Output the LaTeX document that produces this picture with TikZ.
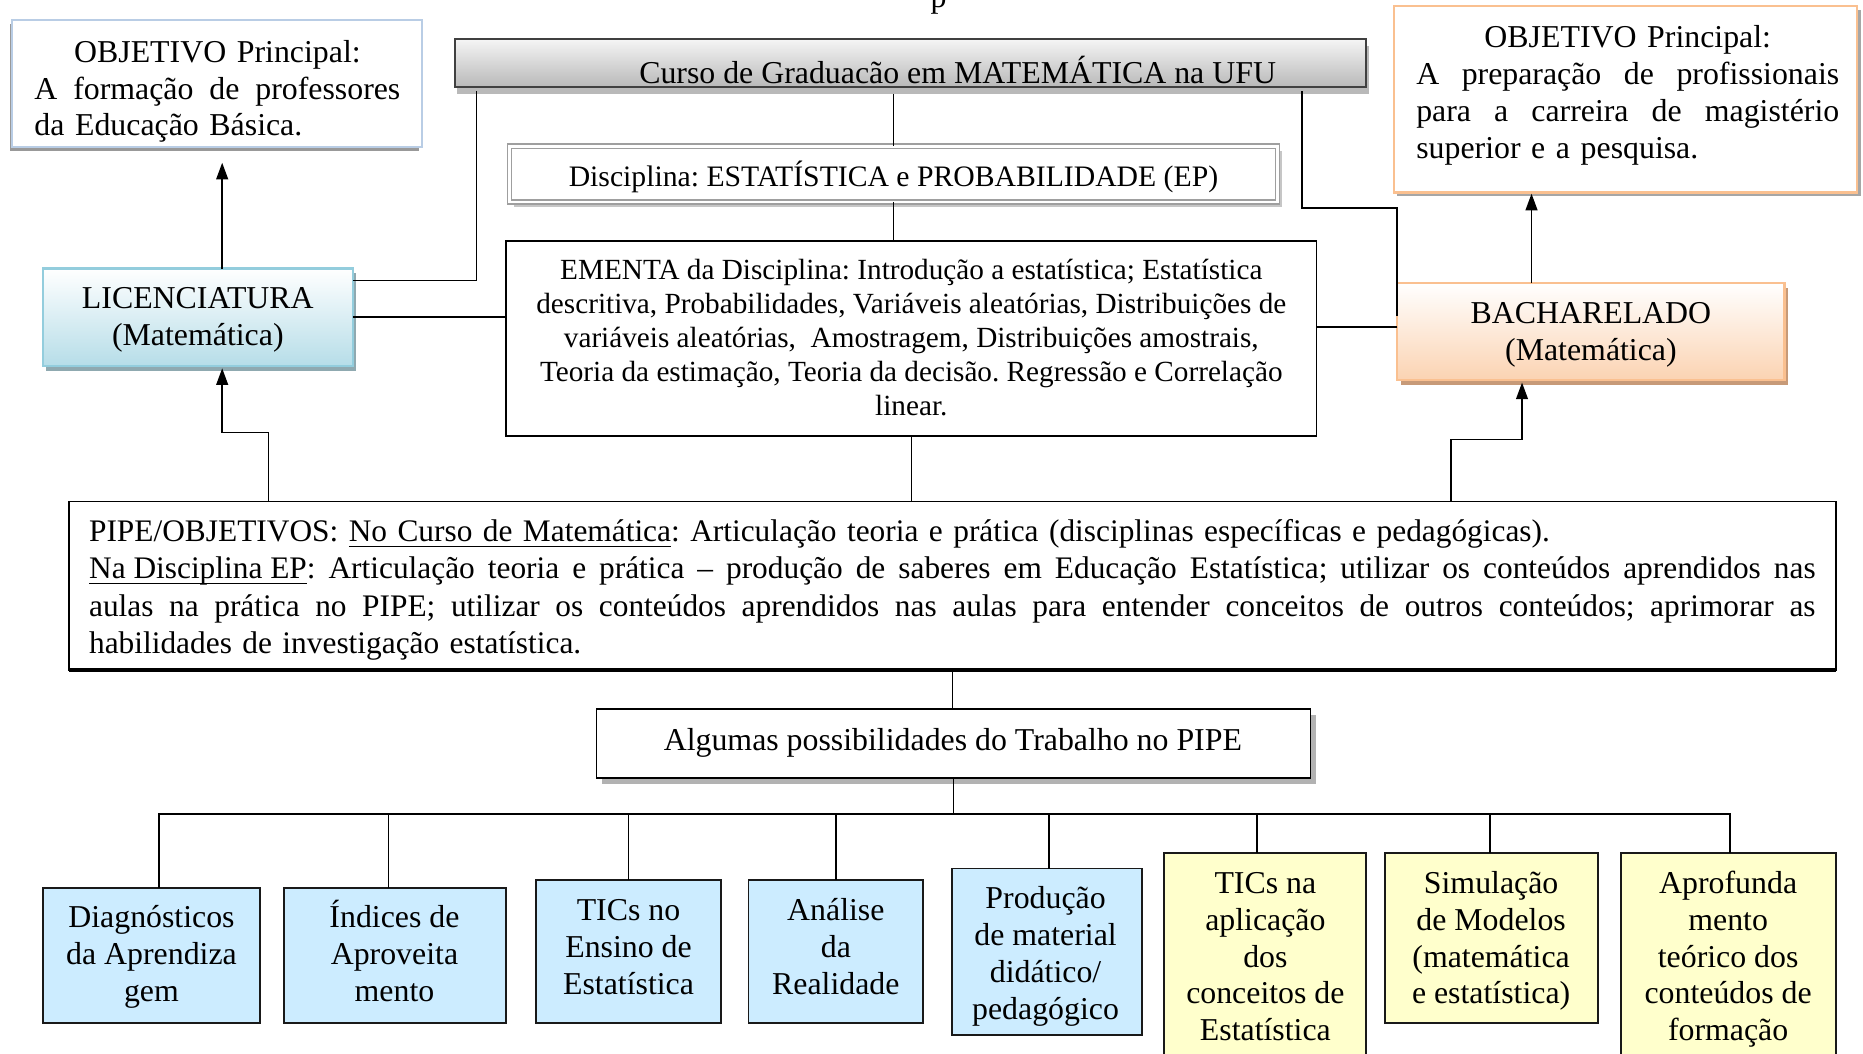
\documentclass[tikz,border=0pt]{standalone}
\usepackage{fontspec}
\setmainfont{Liberation Serif}
\usetikzlibrary{arrows.meta,calc,shadows}

\definecolor{bluefill}{HTML}{CCECFF}
\definecolor{yellowfill}{HTML}{FFFFCC}
\definecolor{licborder}{HTML}{93CDDD}
\definecolor{licbottom}{HTML}{B6DDE8}
\definecolor{licshadow}{HTML}{8FA9B0}
\definecolor{bachborder}{HTML}{FAC090}
\definecolor{bachbottom}{HTML}{FBD3B2}
\definecolor{bachshadow}{HTML}{C79A78}
\definecolor{objlborder}{HTML}{B9CDE5}
\definecolor{darkframe}{HTML}{404040}

% fonts: main size and the smaller size of the syllabus box
\newcommand\fmain{\fontsize{26.8}{31}\selectfont}
\newcommand\fsmall{\fontsize{24.6}{28.6}\selectfont}
% fixed-height strut so a text node's top lies 25pt above its first baseline
\newcommand\tp{\rule{0pt}{25pt}}
% underline at a fixed distance below the baseline
\newcommand\ulin[1]{\setbox0\hbox{#1}\rlap{\rule[-4.5pt]{\wd0}{1.2pt}}\box0}
% fully justified single line of a given width
\newcommand\jline[2]{\leavevmode\hbox to #1{\spaceskip=0.25em plus 1fil\relax #2}}
% box node from its corners (x1,y1) and (x2,y2)
\newcommand\mkbox[6]{\node[frame,#6,minimum width={(#4)-(#2)},minimum height={(#5)-(#3)}] (#1) at (#2,#3) {};}

\AtBeginDocument{\frenchspacing}

\tikzset{
  line/.style={draw=black, line width=1.3pt},
  arr/.style={line, -{Triangle[length=14pt,width=10pt]}},
  frame/.style={anchor=north west, inner sep=0pt, outer sep=0pt, rectangle},
  txt/.style={inner sep=0pt, outer sep=0pt, font=\fmain},
  plainbox/.style={draw=black, line width=1.5pt, fill=white},
  bluebox/.style={draw=black!90, line width=1.6pt, fill=bluefill},
  yellowbox/.style={draw=black!90, line width=1.6pt, fill=yellowfill},
}

\begin{document}
\begin{tikzpicture}[x=1pt,y=-1pt]
\useasboundingbox (0,0) rectangle (1568,887);
\clip (0,0) rectangle (1568,887);
\fill[white] (0,0) rectangle (1568,887);

% ---------- boxes ----------
\mkbox{objL}{10}{17}{355}{124}{draw=objlborder, line width=1.5pt, fill=white,
  drop shadow={shadow xshift=-2pt, shadow yshift=-3pt, fill=gray!80, opacity=1}}
\mkbox{objR}{1173}{5}{1563}{162}{draw=bachborder, line width=1.8pt, fill=white,
  drop shadow={shadow xshift=3pt, shadow yshift=-3pt, fill=gray!70, opacity=1}}
\mkbox{curso}{383}{33}{1150}{73}{draw=darkframe, line width=1.5pt,
  top color=gray!8, bottom color=gray!55,
  drop shadow={shadow xshift=2pt, shadow yshift=-6pt, fill=gray!55, opacity=1}}
\mkbox{disc}{429}{123}{1075}{170}{draw=gray!75, double=white, double distance=2.5pt,
  line width=1pt, fill=white,
  drop shadow={shadow xshift=4pt, shadow yshift=-4pt, fill=gray!45, opacity=1}}
\mkbox{lic}{36}{226}{297}{308}{draw=licborder, line width=2pt,
  top color=white, bottom color=licbottom,
  drop shadow={shadow xshift=3pt, shadow yshift=-4pt, fill=licshadow, opacity=1}}
\mkbox{bach}{1176}{238}{1502}{320}{draw=bachborder, line width=2pt,
  top color=white, bottom color=bachbottom,
  drop shadow={shadow xshift=3pt, shadow yshift=-4pt, fill=bachshadow, opacity=1}}
\mkbox{ementa}{426}{203}{1108}{367}{plainbox}
\mkbox{pipe}{58}{422}{1545}{564}{plainbox}
\draw[line width=3pt] (pipe.south west) -- (pipe.south east);
\mkbox{alg}{502}{597}{1103}{655}{plainbox,
  drop shadow={shadow xshift=5pt, shadow yshift=-5pt, fill=gray!60, opacity=1}}

\mkbox{d1}{36}{747}{219}{861}{bluebox}
\mkbox{d2}{239}{747}{426}{861}{bluebox}
\mkbox{d3}{451}{741}{607}{861}{bluebox}
\mkbox{d4}{630}{741}{777}{861}{bluebox}
\mkbox{d5}{801}{731}{961}{871}{bluebox}
\mkbox{d6}{980}{718}{1150}{900}{yellowbox}
\mkbox{d7}{1166}{718}{1345}{861}{yellowbox}
\mkbox{d8}{1364}{718}{1545}{900}{yellowbox}

% ---------- connectors ----------
\draw[line] ([yshift=-6pt]curso.south -| disc.north) -- (disc.north);
\draw[line] (disc.south) -- (disc.south |- ementa.north);
\draw[line] ([xshift=18pt,yshift=-4pt]curso.south west) |- ([yshift=-10pt]lic.north east);
\draw[line] ([xshift=-54pt,yshift=-4pt]curso.south east) |- ([yshift=63pt]bach.north west)
  -- ([yshift=-28pt]bach.north west);
\draw[line] (lic.east) -- (lic.east -| ementa.west);
\draw[line] ([yshift=4pt]bach.west) -- ([yshift=4pt]bach.west -| ementa.east);
\draw[line] (ementa.south) -- (ementa.south |- pipe.north);

\coordinate (tipL) at (187,137);
\coordinate (tipR) at (1289,163);
\coordinate (licB) at (187,310);
\coordinate (bachB) at (1281,322);
\draw[arr] (lic.north -| tipL) -- (tipL);
\draw[arr] (bach.north -| tipR) -- (tipR);
\draw[arr] ([xshift=168pt]pipe.north west) |- ([yshift=-54pt]licB) -- (licB);
\draw[arr] ([xshift=-324pt]pipe.north east) |- ([yshift=-48pt]bachB) -- (bachB);

\draw[line] (pipe.south) -- (pipe.south |- alg.north);
\path (alg.south) ++(0,30) coordinate (bus);
\draw[line] (alg.south) -- (bus);
\foreach \n/\dx in {d1/6.5,d2/-5.5,d3/0,d4/0,d5/2,d6/-7,d7/-1.5,d8/1.5}
  \draw[line] (bus) -| ([xshift=\dx pt]\n.north);

% ---------- texts ----------
\node[txt, anchor=base] (ptop) at (790,6) {p};

\node[txt, anchor=north west, text width=308pt, align=left,
  font=\fontsize{26.8}{30.7}\selectfont] (objLt) at (29,28)
  {\makebox[308pt][c]{\tp OBJETIVO Principal:}\\
   \jline{308pt}{A formação de professores}\\
   da Educação Básica.};

\node[txt, anchor=north west, text width=356pt, align=left] (objRt) at (1192,15)
  {\makebox[356pt][c]{\tp OBJETIVO Principal:}\\
   \jline{356pt}{A preparação de profissionais}\\
   \jline{356pt}{para a carreira de magistério}\\
   superior e a pesquisa.};

\begin{scope}
  \clip (383,33) rectangle (1150,70);
  \node[txt, anchor=base] (cursot) at (806,70.5)
    {Curso de Graduacão em MATEMÁTICA na UFU};
\end{scope}

\node[txt, anchor=base, font=\fontsize{25}{29}\selectfont] (disct) at (752,157)
  {Disciplina: ESTATÍSTICA e PROBABILIDADE (EP)};

\node[txt, anchor=north, align=center] (lict) at (166.5,235)
  {\tp LICENCIATURA\\(Matemática)};
\node[txt, anchor=north, align=center] (bacht) at (1339,247)
  {\tp BACHARELADO\\(Matemática)};

\node[txt, anchor=north, align=center, font=\fsmall] (ementat) at (767,210)
  {\tp EMENTA da Disciplina: Introdução a estatística; Estatística\\
   descritiva, Probabilidades, Variáveis aleatórias, Distribuições de\\
   variáveis aleatórias,~ Amostragem, Distribuições amostrais,\\
   Teoria da estimação, Teoria da decisão. Regressão e Correlação\\
   linear.};

\node[txt, anchor=north west, text width=1453pt, align=left,
  font=\fontsize{26.4}{31.3}\selectfont] (pipet) at (75,431)
  {\tp PIPE/OBJETIVOS: \ulin{No Curso de Matemática}: Articulação teoria e prática (disciplinas específicas e pedagógicas).\\
   \jline{1453pt}{\ulin{Na Disciplina EP}: Articulação teoria e prática – produção de saberes em Educação Estatística; utilizar os conteúdos aprendidos nas}\\
   \jline{1453pt}{aulas na prática no PIPE; utilizar os conteúdos aprendidos nas aulas para entender conceitos de outros conteúdos; aprimorar as}\\
   habilidades de investigação estatística.};

\node[txt, anchor=base] (algt) at (802,632) {Algumas possibilidades do Trabalho no PIPE};

\node[txt, anchor=north, align=center] (d1t) at (127.5,756) {\tp Diagnósticos\\da Aprendiza\\gem};
\node[txt, anchor=north, align=center] (d2t) at (332,756) {\tp Índices de\\Aproveita\\mento};
\node[txt, anchor=north, align=center] (d3t) at (529,750) {\tp TICs no\\Ensino de\\Estatística};
\node[txt, anchor=north, align=center] (d4t) at (703.5,750) {\tp Análise\\da\\Realidade};
\node[txt, anchor=north, align=center] (d5t) at (880,740) {\tp Produção\\de material\\didático/\\pedagógico};
\node[txt, anchor=north, align=center] (d6t) at (1065,727) {\tp TICs na\\aplicação\\dos\\conceitos de\\Estatística};
\node[txt, anchor=north, align=center] (d7t) at (1255,727) {\tp Simulação\\de Modelos\\(matemática\\e estatística)};
\node[txt, anchor=north, align=center] (d8t) at (1454.5,727) {\tp Aprofunda\\mento\\teórico dos\\conteúdos de\\formação};
\end{tikzpicture}
\end{document}
